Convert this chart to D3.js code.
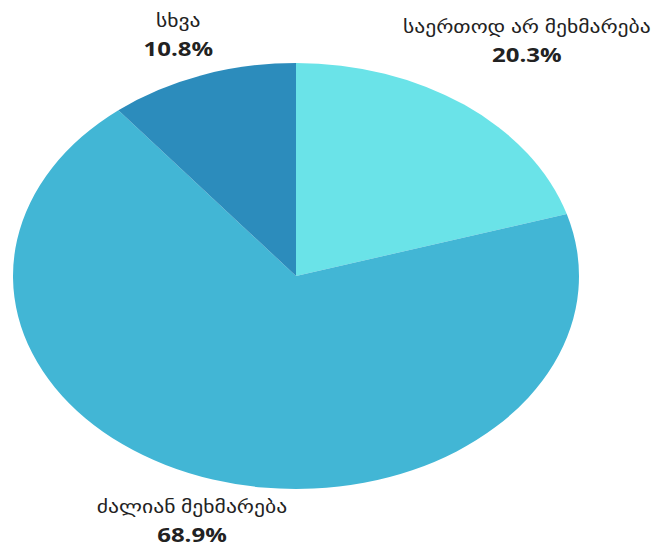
<!doctype html>
<html lang=ka>
<head>
  <meta charset="utf-8">
  <title>pie</title>
  <style>
body {
  margin: 0;
  background: white;
  overflow: hidden;
}
text {
  font-family: "Open Sans", "DejaVu Sans", sans-serif;
  fill: #222;
}
  </style>
</head>
<body>
<div id=content></div>

<script src="https://cdn.jsdelivr.net/npm/d3@7"></script>
<script>

  // data
  var labels = ["საერთოდ არ მეხმარება", "ძალიან მეხმარება", "სხვა"]
  var values = [20.3, 68.9, 10.8]
  var colors = ["#6ae3e8", "#42b6d5", "#2c8cbc"]

  var w = 662, h = 550
  // pie centre and radii (pie is stretched horizontally)
  var cx = 296, cy = 276
  var r = 213, sx = 283 / 213
  // label distance from centre, as share of the radius
  var labelK = [1.37, 1.25, 1.25]

  var svg = d3.select("#content").append("svg")
      .attr("width", w)
      .attr("height", h)

  var d = values.map((v, i) => ({label: labels[i], value: v, color: colors[i], k: labelK[i]}))

  var pie = d3.pie()
      .sort(null)
      .value(d => d.value)

  var arcs = pie(d)

  var arc = d3.arc()
      .innerRadius(0)
      .outerRadius(r)

  var plt = svg.append("g")
      .attr("transform", "translate(" + cx + "," + cy + ") scale(" + sx + ",1)")

  plt.selectAll("path")
      .data(arcs)
      .enter().append("path")
      .attr("d", arc)
      .attr("fill", d => d.data.color)

  var lab = svg.append("g")
      .attr("transform", "translate(" + cx + "," + cy + ")")

  var g = lab.selectAll("g")
      .data(arcs)
      .enter().append("g")
      .attr("transform", function(a){
        var rr = r * a.data.k
        var c = d3.arc().innerRadius(rr).outerRadius(rr).centroid(a)
        var y = Math.max(-240, Math.min(246, c[1]))
        return "translate(" + (c[0] * sx) + "," + y + ") scale(1.2,1)"
      })

  g.append("text")
      .attr("text-anchor", "middle")
      .attr("y", -9)
      .attr("font-size", 18)
      .text(a => a.data.label)

  g.append("text")
      .attr("text-anchor", "middle")
      .attr("y", 20)
      .attr("font-size", 20)
      .attr("font-weight", "bold")
      .text(a => a.data.value.toFixed(1) + "%")

</script>
</body>
</html>
